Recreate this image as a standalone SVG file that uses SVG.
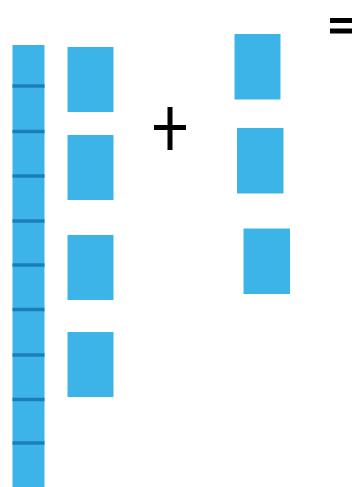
<svg xmlns="http://www.w3.org/2000/svg" width="352" height="487" viewBox="0 0 352 487">
<style>
.blk{fill:#3db4e8}
.seg{stroke:#1a7fb8;stroke-width:3.5}
.op{stroke:#000;stroke-width:5;fill:none}
</style>
<rect width="352" height="487" fill="#fff"/>
<g id="rod">
<rect class="blk" x="12.5" y="45" width="32" height="442"/>
<line class="seg" x1="12.5" y1="86" x2="44.5" y2="86"/>
<line class="seg" x1="12.5" y1="131.5" x2="44.5" y2="131.5"/>
<line class="seg" x1="12.5" y1="176" x2="44.5" y2="176"/>
<line class="seg" x1="12.5" y1="221" x2="44.5" y2="221"/>
<line class="seg" x1="12.5" y1="265" x2="44.5" y2="265"/>
<line class="seg" x1="12.5" y1="309.5" x2="44.5" y2="309.5"/>
<line class="seg" x1="12.5" y1="355" x2="44.5" y2="355"/>
<line class="seg" x1="12.5" y1="399.5" x2="44.5" y2="399.5"/>
<line class="seg" x1="12.5" y1="443" x2="44.5" y2="443"/>
</g>
<g id="left1"><rect class="blk" x="67.5" y="47" width="46" height="65"/></g>
<g id="left2"><rect class="blk" x="67.5" y="135" width="46" height="65"/></g>
<g id="left3"><rect class="blk" x="67.5" y="235" width="46" height="65"/></g>
<g id="left4"><rect class="blk" x="67.5" y="332" width="46" height="65"/></g>
<g id="plus">
<line class="op" x1="154" y1="127.5" x2="186" y2="127.5"/>
<line class="op" x1="170" y1="107" x2="170" y2="150"/>
</g>
<g id="right1"><rect class="blk" x="234.5" y="34" width="46" height="65.5"/></g>
<g id="right2"><rect class="blk" x="237" y="128" width="46.5" height="65.5"/></g>
<g id="right3"><rect class="blk" x="243.5" y="228.5" width="46.5" height="65.5"/></g>
<g id="equals">
<line class="op" x1="330" y1="20.5" x2="352" y2="20.5" stroke-width="3.5"/>
<line class="op" x1="330" y1="31" x2="352" y2="31" stroke-width="3.5"/>
</g>
</svg>
